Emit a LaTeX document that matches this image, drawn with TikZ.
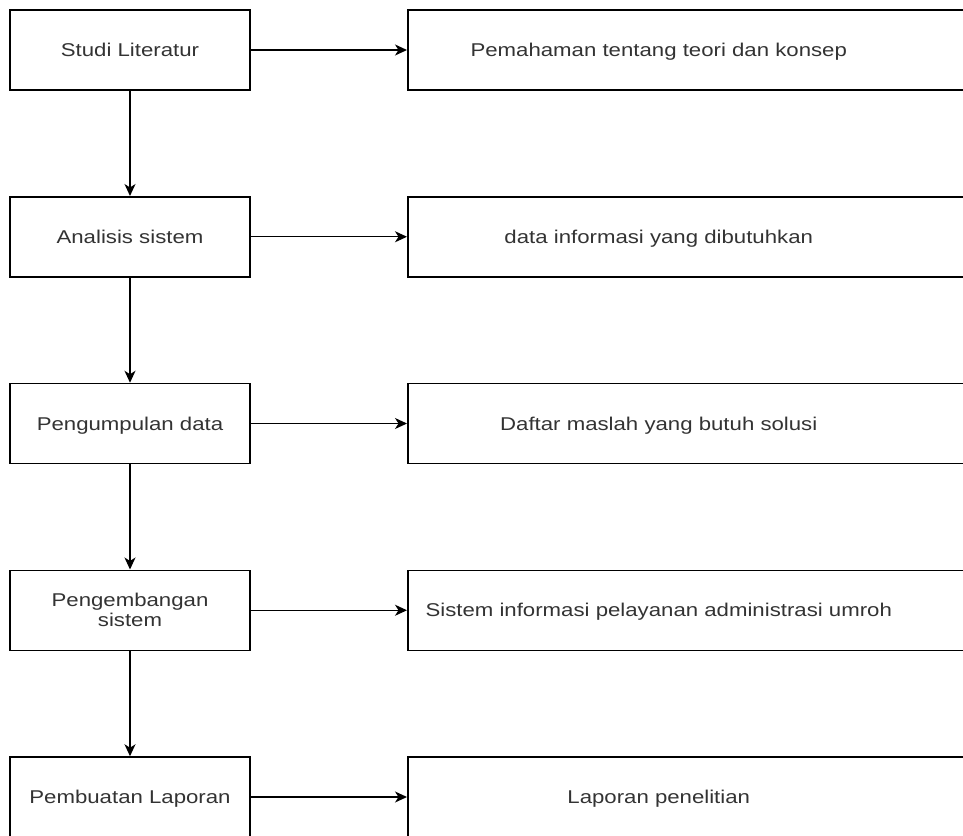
\documentclass[tikz,border=0pt]{standalone}
\usepackage{graphicx}
\usepackage{fontspec}
\setmainfont{Liberation Sans}
\usetikzlibrary{arrows.meta}
\definecolor{txt}{HTML}{333333}
\newcommand{\hs}[1]{\scalebox{1.2}[1]{#1}}
\newcommand{\rt}[1]{\makebox[502pt][c]{\hs{#1}}\rule{80pt}{0pt}}
\begin{document}
\begin{tikzpicture}[x=1pt,y=-1pt,
  lbox/.style={draw=black, line width=1.5pt, minimum width=240pt, minimum height=80pt,
    inner sep=0pt, align=center, font=\fontsize{18.5}{19.5}\selectfont, text=txt,
    text height=13.2pt, text depth=0pt},
  rbox/.style={draw=black, line width=1.5pt, minimum height=80pt, inner sep=0pt,
    anchor=west, font=\fontsize{18.5}{19.5}\selectfont, text=txt,
    text height=13.2pt, text depth=0pt},
  arr/.style={line width=1.4pt, -{Stealth[length=12pt,width=11pt,inset=3.5pt]}}]
\clip (0,0) rectangle (963,835);
\fill[white] (0,0) rectangle (963,835);

\node[lbox] (a1) at (130,50) {\hs{Studi Literatur}};
\node[lbox] (a2) at (130,236.75) {\hs{Analisis sistem}};
\node[lbox] (a3) at (130,423.5) {\hs{Pengumpulan data}};
\node[lbox, text height=32.2pt] (a4) at (130,610.25) {\hs{Pengembangan}\\\hs{sistem}};
\node[lbox] (a5) at (130,797) {\hs{Pembuatan Laporan}};

\node[rbox] (b1) at (407,50) {\rt{Pemahaman tentang teori dan konsep}};
\node[rbox] (b2) at (407,236.75) {\rt{data informasi yang dibutuhkan}};
\node[rbox] (b3) at (407,423.5) {\rt{Daftar maslah yang butuh solusi}};
\node[rbox] (b4) at (407,610.25) {\rt{Sistem informasi pelayanan administrasi umroh}};
\node[rbox] (b5) at (407,797) {\rt{Laporan penelitian}};

\foreach \i in {1,...,5}{\draw[arr] (a\i.east) -- (b\i.west);}
\draw[arr] (a1) -- (a2);
\draw[arr] (a2) -- (a3);
\draw[arr] (a3) -- (a4);
\draw[arr] (a4) -- (a5);
\end{tikzpicture}
\end{document}
